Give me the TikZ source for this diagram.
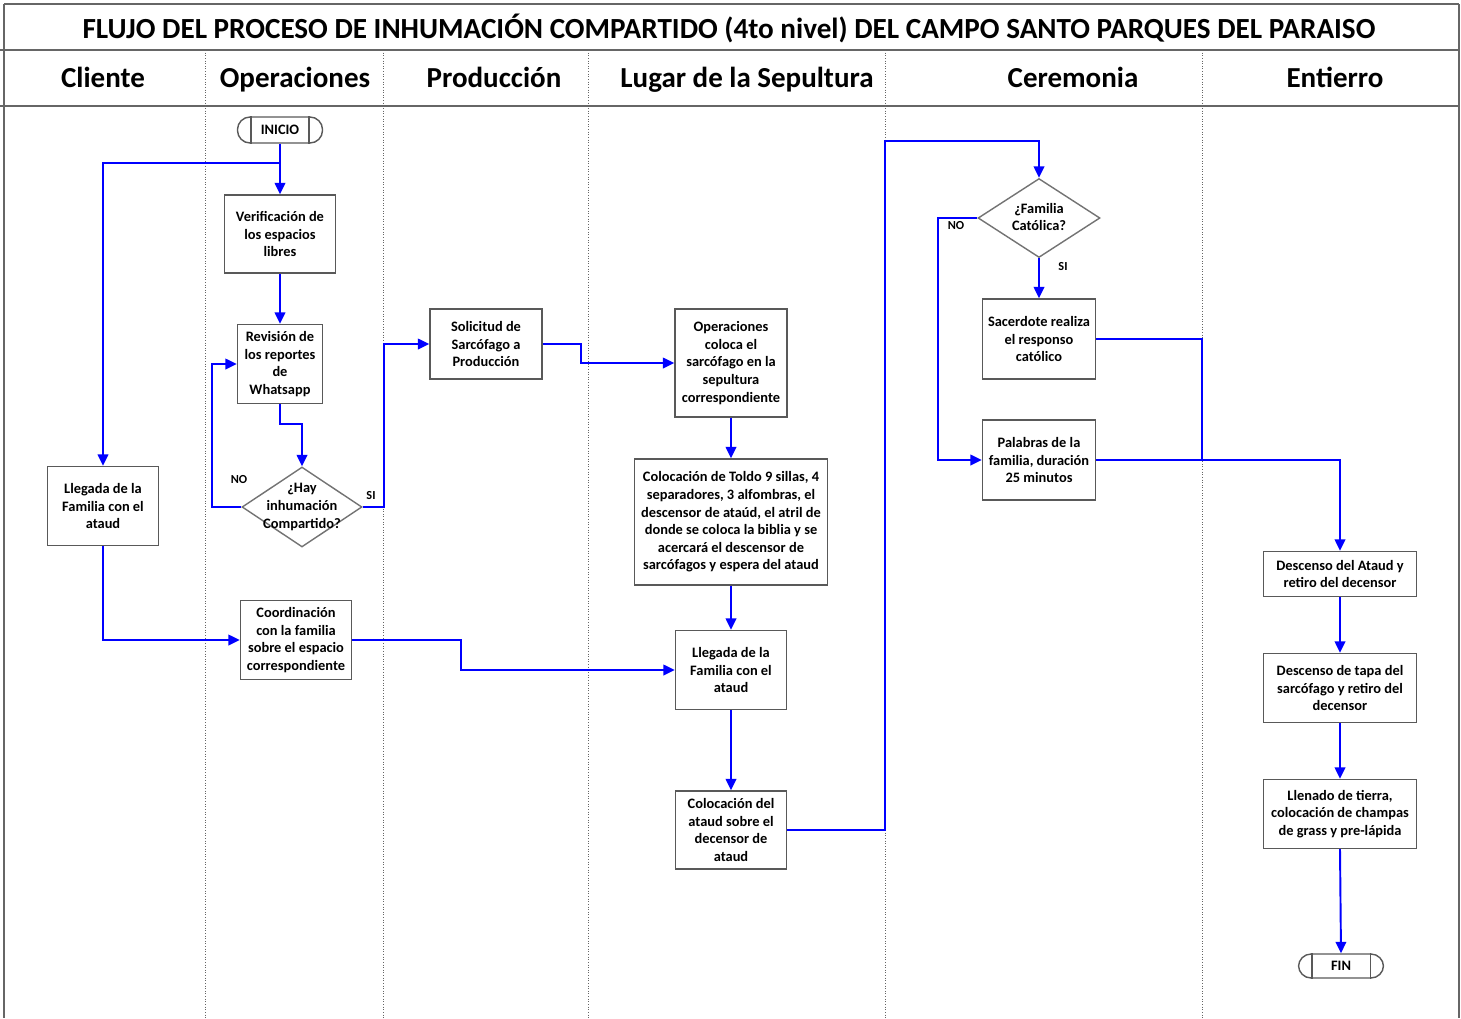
\documentclass[tikz,border=0pt]{standalone}
\usepackage{fontspec}
\setmainfont{Carlito}
\usepackage{tikz}
\usetikzlibrary{arrows.meta,shapes.geometric}

\begin{document}
\begin{tikzpicture}[x=0.02cm,y=-0.02cm]
\tikzstyle{every node} = [inner sep=1pt]
\tikzstyle{box} = [rectangle, draw=black!65, line width=0.8pt, fill=white, align=center, font=\fontsize{8.2}{10}\selectfont\bfseries]
\tikzstyle{decision} = [diamond, draw=black!55, line width=0.8pt, fill=white, inner sep=0pt]
\tikzstyle{dtext} = [align=center, font=\fontsize{8.2}{10}\selectfont\bfseries]
\tikzstyle{term} = [rectangle, rounded corners=0.25cm, draw=black!65, line width=0.8pt, fill=white, minimum width=1.7cm, font=\fontsize{8.2}{10}\selectfont\bfseries]
\tikzstyle{flow} = [draw=blue, line width=1.1pt, -{Triangle[length=6.5pt,width=6pt]}]
\tikzstyle{line} = [draw=blue, line width=1.1pt]
\tikzstyle{tag} = [font=\fontsize{7}{8}\selectfont\bfseries]
\tikzstyle{lane} = [draw=black!60, line width=0.5pt, densely dotted]
\tikzstyle{frame} = [draw=black!60, line width=1pt]

\useasboundingbox (0,0) rectangle (1461,1018);

% marco y carriles
\draw[frame] (4,4) -- (1459,4);
\draw[frame] (0,50) -- (1459,50);
\draw[frame] (0,106) -- (1459,106);
\draw[frame] (4,4) -- (4,1018);
\draw[frame] (1459,4) -- (1459,1018);
\foreach \x in {205,383,588,885,1202}
  \draw[lane] (\x,50) -- (\x,1018);

\node (titulo) at (729,28) {\fontsize{16.6}{19}\selectfont\bfseries FLUJO DEL PROCESO DE INHUMACIÓN COMPARTIDO (4to nivel) DEL CAMPO SANTO PARQUES DEL PARAISO};
\foreach \name/\x/\t in {hcli/103/Cliente, hope/295/Operaciones, hpro/494/Producción, hlug/747/Lugar de la Sepultura, hcer/1073/Ceremonia, hent/1335/Entierro}
  \node[anchor=base] (\name) at (\x,87) {\fontsize{16.5}{19}\selectfont\bfseries \t};

% nodos
\node[term, minimum height=0.52cm] (inicio) at (280,130) {INICIO};
\draw[line width=0.8pt, black!65] ([xshift=0.28cm]inicio.north west) -- ([xshift=0.28cm]inicio.south west);
\draw[line width=0.8pt, black!65] ([xshift=-0.28cm]inicio.north east) -- ([xshift=-0.28cm]inicio.south east);
\node[box, minimum width=2.22cm, minimum height=1.56cm] (verif) at (280,234) {Verificación de\\los espacios\\libres};
\node[box, minimum width=1.7cm, minimum height=1.58cm] (revis) at (280,364) {Revisión de\\los reportes\\de\\Whatsapp};
\node[decision, minimum width=2.4cm, minimum height=1.6cm] (hay) at (302,507) {};
\node[dtext] (haytxt) at (302,507) {¿Hay\\inhumación\\Compartido?};
\node[box, minimum width=2.22cm, minimum height=1.58cm] (llegcli) at (103,506) {Llegada de la\\Familia con el\\ataud};
\node[box, minimum width=2.22cm, minimum height=1.58cm] (coord) at (296,640) {Coordinación\\con la familia\\sobre el espacio\\correspondiente};
\node[box, minimum width=2.24cm, minimum height=1.4cm] (solic) at (486,344) {Solicitud de\\Sarcófago a\\Producción};
\node[box, minimum width=2.24cm, minimum height=2.16cm] (opcol) at (731,363) {Operaciones\\coloca el\\sarcófago en la\\sepultura\\correspondiente};
\node[box, minimum width=3.86cm, minimum height=2.52cm] (toldo) at (731,522) {Colocación de Toldo 9 sillas, 4\\separadores, 3 alfombras, el\\descensor de ataúd, el atril de\\donde se coloca la biblia y se\\acercará el descensor de\\sarcófagos y espera del ataud};
\node[box, minimum width=2.22cm, minimum height=1.58cm] (llegfam) at (731,670) {Llegada de la\\Familia con el\\ataud};
\node[box, minimum width=2.22cm, minimum height=1.56cm] (colat) at (731,830) {Colocación del\\ataud sobre el\\decensor de\\ataud};
\node[decision, minimum width=2.44cm, minimum height=1.58cm] (catol) at (1039,218) {};
\node[dtext] (catoltxt) at (1039,217) {¿Familia\\Católica?};
\node[box, minimum width=2.26cm, minimum height=1.6cm] (sacer) at (1039,339) {Sacerdote realiza\\el responso\\católico};
\node[box, minimum width=2.26cm, minimum height=1.6cm] (palab) at (1039,460) {Palabras de la\\familia, duración\\25 minutos};
\node[box, minimum width=3.06cm, minimum height=0.9cm] (desat) at (1340,574) {Descenso del Ataud y\\retiro del decensor};
\node[box, minimum width=3.06cm, minimum height=1.38cm] (destap) at (1340,688) {Descenso de tapa del\\sarcófago y retiro del\\decensor};
\node[box, minimum width=3.06cm, minimum height=1.38cm] (llen) at (1340,814) {Llenado de tierra,\\colocación de champas\\de grass y pre-lápida};
\node[term, minimum height=0.48cm] (fin) at (1341,966) {FIN};
\draw[line width=0.8pt, black!65] ([xshift=0.28cm]fin.north west) -- ([xshift=0.28cm]fin.south west);
\draw[line width=0.8pt, black!65] ([xshift=-0.28cm]fin.north east) -- ([xshift=-0.28cm]fin.south east);

% conectores
\draw[flow] (inicio.south) -- (verif.north);
\draw[flow] (inicio.south) -- ++(0,19) -| (llegcli.north);
\draw[flow] (verif.south) -- (revis.north);
\draw[flow] (revis.south) -- ++(0,20) -| (hay.north);
\draw[flow] (hay.west) -- ++(-29,0) |- (revis.west);
\draw[flow] (hay.east) -- ++(21,0) |- (solic.west);
\draw[flow] (solic.east) -- ++(38,0) |- (opcol.west);
\draw[flow] (opcol.south) -- (toldo.north);
\draw[flow] (toldo.south) -- (llegfam.north);
\draw[flow] (llegcli.south) |- (coord.west);
\draw[flow] (coord.east) -- ++(109,0) |- (llegfam.west);
\draw[flow] (llegfam.south) -- (colat.north);
\draw[flow] (colat.east) -- ++(98,0) -- ++(0,-689) -| (catol.north);
\draw[flow] (catol.south) -- (sacer.north);
\draw[flow] (catol.west) -- ++(-39,0) |- (palab.west);
\coordinate (junta) at (1202,460);
\draw[line] (sacer.east) -| (junta);
\draw[flow] (palab.east) -| (desat.north);
\draw[flow] (desat.south) -- (destap.north);
\draw[flow] (destap.south) -- (llen.north);
\draw[flow] (llen.south) -- (fin.north);

\node[tag] (no1) at (239,480) {NO};
\node[tag] (si1) at (371,496) {SI};
\node[tag] (no2) at (956,226) {NO};
\node[tag] (si2) at (1063,267) {SI};
\end{tikzpicture}
\end{document}
